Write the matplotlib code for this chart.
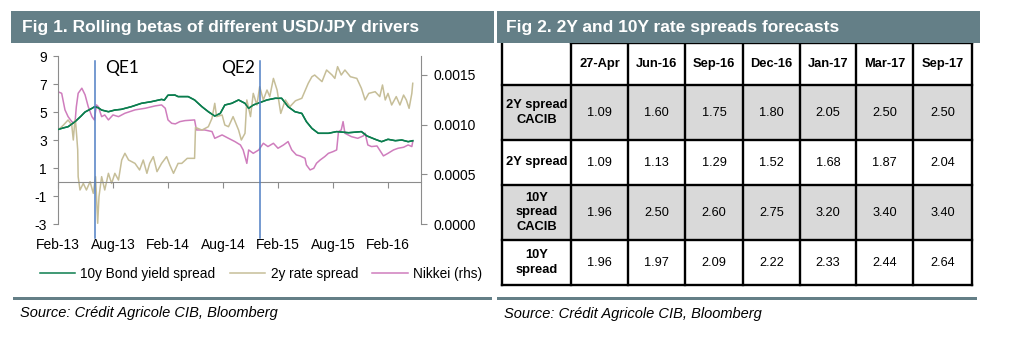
import matplotlib
matplotlib.use('Agg')
import matplotlib.pyplot as plt
from matplotlib.patches import Rectangle
from matplotlib.lines import Line2D
from matplotlib.ticker import FormatStrFormatter

# ---------------- data: Fig 1 (x = months since Feb-2013) ----------------
x_tick_pos = [0, 6, 12, 18, 24, 30, 36]
x_tick_labels = ['Feb-13', 'Aug-13', 'Feb-14', 'Aug-14', 'Feb-15', 'Aug-15', 'Feb-16']
left_ticks = [-3, -1, 1, 3, 5, 7, 9]
right_ticks = [0.0, 0.0005, 0.0010, 0.0015]

green_m = [0.0, 0.5, 1.1, 1.85, 2.5, 2.95, 3.7, 4.0, 4.4, 4.76, 5.5, 6.2, 6.9, 8.0, 9.1,
           10.2, 11.3, 11.6, 12.0, 12.76, 13.1, 14.2, 14.9, 15.7, 16.4, 17.1, 17.7, 18.2,
           18.95, 19.7, 20.4, 20.8, 21.3, 22.0, 22.8, 23.7, 24.4, 25.1, 25.85, 26.6, 27.1,
           27.7, 28.4, 29.5, 30.4, 31.7, 33.1, 33.7, 34.6, 35.3, 36.0, 36.8, 37.5, 38.2, 38.7]
green_v = [3.75, 3.85, 3.95, 4.3, 4.7, 5.0, 5.26, 5.38, 5.3, 5.14, 5.02, 5.14, 5.19, 5.38, 5.62,
           5.74, 5.9, 5.85, 6.2, 6.21, 6.1, 6.1, 5.86, 5.38, 5.02, 4.71, 4.9, 5.5,
           5.62, 5.86, 5.62, 5.26, 5.5, 5.67, 5.86, 5.98, 5.98, 5.38, 5.02, 4.9, 4.31,
           3.83, 3.48, 3.48, 3.6, 3.52, 3.6, 3.29, 3.05, 2.88, 3.05, 2.95, 3.0, 2.88, 2.95]

tan_m = [0.0, 0.6, 1.1, 1.5, 1.67, 1.8, 1.9, 2.05, 2.15, 2.2, 2.4, 2.76, 3.1, 3.5, 3.85, 4.1,
         4.33, 4.47, 4.76, 5.1, 5.5, 5.85, 6.2, 6.6, 6.95, 7.3, 7.7, 8.4, 8.9, 9.3, 9.7, 10.0,
         10.4, 10.8, 11.3, 11.85, 12.2, 12.6, 13.1, 13.5, 14.1, 14.9, 15.0, 15.7, 16.4, 16.8,
         17.1, 17.3, 17.9, 18.2, 18.6, 19.1, 19.7, 20.0, 20.4, 20.6, 21.0, 21.3, 21.7, 22.0,
         22.4, 22.8, 23.1, 23.5, 23.9, 24.3, 24.8, 25.3, 25.9, 26.6, 27.3, 27.7, 28.0, 28.8,
         29.3, 29.9, 30.2, 30.5, 30.9, 31.3, 31.9, 32.6, 33.1, 33.5, 33.9, 34.6, 35.1, 35.4,
         35.7, 36.0, 36.4, 36.9, 37.3, 37.7, 38.0, 38.3, 38.6, 38.7]
tan_v = [3.7, 4.07, 4.43, 4.07, 3.0, 4.07, 4.43, 3.2, 2.29, 0.38, -0.57, -0.1, -0.57, 0.02, -0.81, 0.38,
         -2.95, -1.05, 0.38, -0.57, 0.62, -0.1, 0.62, 0.14, 1.57, 2.05, 1.57, 1.33, 0.86, 1.57, 0.62, 1.33,
         1.81, 0.74, 1.33, 1.81, 1.21, 0.62, 1.33, 1.33, 1.69, 1.69, 3.9, 3.71, 3.95, 4.55,
         5.62, 4.67, 4.79, 4.07, 3.95, 4.67, 3.71, 3.0, 3.48, 5.86, 4.67, 6.33, 5.5, 6.81,
         5.86, 6.57, 6.1, 7.4, 6.57, 4.9, 5.86, 5.38, 5.8, 5.98, 7.05, 7.52, 7.64, 7.17,
         8.0, 7.64, 7.4, 8.24, 7.64, 8.0, 7.52, 7.4, 6.69, 5.86, 6.33, 6.45, 6.1, 6.93,
         5.86, 6.33, 5.5, 6.1, 5.5, 6.21, 5.86, 5.26, 6.33, 7.05]

pink_m = [0.0, 0.4, 0.76, 1.1, 1.5, 1.85, 2.0, 2.2, 2.6, 2.95, 3.3, 3.7, 3.96, 4.2, 4.4, 4.76,
          5.1, 5.5, 6.0, 6.6, 7.3, 8.4, 9.5, 10.6, 11.3, 11.7, 12.0, 12.4, 12.8, 13.3, 13.85,
          14.9, 15.1, 16.0, 16.8, 17.1, 17.9, 18.6, 19.3, 19.9, 20.2, 20.6, 20.8, 21.3, 21.9,
          22.4, 22.9, 23.5, 24.0, 24.6, 25.1, 25.5, 26.0, 26.4, 26.95, 27.1, 27.5, 27.9, 28.2,
          28.6, 29.1, 29.5, 30.0, 30.4, 30.6, 30.9, 31.1, 31.3, 32.0, 32.7, 33.3, 33.5, 33.8,
          34.2, 34.8, 35.2, 35.5, 36.0, 36.6, 37.1, 37.7, 38.2, 38.6, 38.7]
pink_v = [0.00133, 0.001315, 0.001148, 0.00108, 0.00103, 0.001013, 0.00118, 0.001315, 0.001366,
          0.0013, 0.00118, 0.00108, 0.001047, 0.001198, 0.00118, 0.00108, 0.001097, 0.001047,
          0.001097, 0.00108, 0.001114, 0.001148, 0.001164, 0.001188, 0.001198, 0.001164,
          0.001047, 0.001013, 0.001007, 0.00103, 0.00104, 0.001047, 0.000946, 0.000946,
          0.00093, 0.000862, 0.000896, 0.000862, 0.000829, 0.000795, 0.000745, 0.00061,
          0.000745, 0.000711, 0.000745, 0.000812, 0.000779, 0.000812, 0.000762, 0.000795,
          0.000829, 0.000745, 0.000695, 0.000685, 0.000661, 0.000594, 0.000544, 0.00056,
          0.000611, 0.000644, 0.000678, 0.000711, 0.000728, 0.000745, 0.00093, 0.000946,
          0.00103, 0.000913, 0.000879, 0.000862, 0.000886, 0.000913, 0.000795, 0.000779,
          0.000785, 0.000728, 0.000685, 0.000711, 0.000745, 0.000762, 0.000772, 0.000795,
          0.000779, 0.000829]

qe_m = [4.0, 22.0]
qe_labels = ['QE1', 'QE2']

series_names = ['10y Bond yield spread', '2y rate spread', 'Nikkei (rhs)']

# ---------------- data: Fig 2 table ----------------
col_headers = ['27-Apr', 'Jun-16', 'Sep-16', 'Dec-16', 'Jan-17', 'Mar-17', 'Sep-17']
row_labels = ['2Y spread\nCACIB', '2Y spread', '10Y\nspread\nCACIB', '10Y\nspread']
row_2y_cacib = ['1.09', '1.60', '1.75', '1.80', '2.05', '2.50', '2.50']
row_2y = ['1.09', '1.13', '1.29', '1.52', '1.68', '1.87', '2.04']
row_10y_cacib = ['1.96', '2.50', '2.60', '2.75', '3.20', '3.40', '3.40']
row_10y = ['1.96', '1.97', '2.09', '2.22', '2.33', '2.44', '2.64']
row_shaded = [True, False, True, False]

title1 = 'Fig 1. Rolling betas of different USD/JPY drivers'
title2 = 'Fig 2. 2Y and 10Y rate spreads forecasts'
source = 'Source: Crédit Agricole CIB, Bloomberg'

# ---------------- styling ----------------
plt.rcParams['font.family'] = ['Liberation Sans', 'DejaVu Sans']
plt.rcParams['axes.unicode_minus'] = False
W, H = 1017, 342
HDR = '#647F87'
GREEN = '#0B7D4E'
TAN = '#C6BE98'
PINK = '#CF7DBD'
BLUE = '#4F7EC4'
AXC = '#8C8C8C'

fig = plt.figure(figsize=(W / 100, H / 100), dpi=100)


def fx(px):
    return px / W


def fy(py):
    return 1 - py / H


def frect(x0, y0, x1, y1, color):
    fig.add_artist(Rectangle((fx(x0), fy(y1)), fx(x1) - fx(x0), fy(y0) - fy(y1),
                             transform=fig.transFigure, color=color, lw=0))


# header bars and bottom rules
frect(11, 11, 494, 43, HDR)
frect(497, 11, 980, 43, HDR)
frect(13, 297, 492, 300, HDR)
frect(497, 297, 977, 300, HDR)
fig.text(fx(22), fy(27.5), title1, color='white', fontsize=12.5, fontweight='bold',
         va='center', ha='left')
fig.text(fx(506), fy(27.5), title2, color='white', fontsize=12.5, fontweight='bold',
         va='center', ha='left')
fig.text(fx(20), fy(313), source, fontsize=10.5, style='italic', va='center', ha='left')
fig.text(fx(504), fy(314), source, fontsize=10.5, style='italic', va='center', ha='left')

# ---------------- Fig 1 chart ----------------
ax = fig.add_axes([fx(58), fy(224), fx(421) - fx(58), fy(56) - fy(224)])
ax2 = ax.twinx()
ax.set_zorder(ax2.get_zorder() + 1)
ax.patch.set_visible(False)

ax.set_xlim(0, 39.6)
ax.set_ylim(-3, 9)
ax2.set_ylim(0, 0.00169)

l1, = ax.plot(green_m, green_v, color=GREEN, lw=1.1)
l2, = ax.plot(tan_m, tan_v, color=TAN, lw=1.1)
l3, = ax2.plot(pink_m, pink_v, color=PINK, lw=1.1)
ax.plot(green_m, green_v, color=GREEN, lw=1.1, zorder=3)

for m, lab in zip(qe_m, qe_labels):
    ax.plot([m, m], [8.64, -4.0], color=BLUE, lw=1.1, clip_on=False, zorder=4)
for m, lab, off, ha in zip(qe_m, qe_labels, [1.1, -0.5], ['left', 'right']):
    ax.text(m + off, 8.75, lab, fontsize=12.5, family='Lato', ha=ha, va='top')

for a in (ax, ax2):
    a.spines['top'].set_visible(False)
ax.spines['right'].set_visible(False)
ax2.spines['left'].set_visible(False)
ax2.spines['bottom'].set_visible(False)
ax.spines['left'].set_color(AXC)
ax2.spines['right'].set_color(AXC)
ax.spines['bottom'].set_color(AXC)
ax.spines['bottom'].set_position(('data', 0))

ax.set_xticks(x_tick_pos)
ax.set_xticklabels(x_tick_labels)
ax.tick_params(axis='x', direction='out', length=4, color=AXC, pad=36, labelsize=10)
ax.set_yticks(left_ticks)
ax.tick_params(axis='y', direction='out', length=3.5, color=AXC, pad=4.5, labelsize=10)
ax2.set_yticks(right_ticks)
ax2.yaxis.set_major_formatter(FormatStrFormatter('%.4f'))
ax2.tick_params(axis='y', direction='out', length=4, color=AXC, pad=5, labelsize=10)

handles = [Line2D([], [], color=c, lw=1.1) for c in (GREEN, TAN, PINK)]
fig.legend(handles, series_names, loc='center', bbox_to_anchor=(fx(261), fy(274)),
           ncol=3, frameon=False, fontsize=9.8, handlelength=2.6, handletextpad=0.4,
           columnspacing=1.05, borderpad=0, borderaxespad=0)

# ---------------- Fig 2 table ----------------
col_edges = [502, 571, 628, 685, 743, 800, 856, 913, 972]
row_edges = [43, 85, 140, 185, 240, 285]
axt = fig.add_axes([fx(502), fy(285), fx(972) - fx(502), fy(43) - fy(285)])
axt.set_xlim(col_edges[0], col_edges[-1])
axt.set_ylim(row_edges[-1], row_edges[0])
axt.axis('off')

rows = [row_2y_cacib, row_2y, row_10y_cacib, row_10y]
for i, shaded in enumerate(row_shaded):
    if shaded:
        axt.add_patch(Rectangle((col_edges[0], row_edges[i + 1]), col_edges[-1] - col_edges[0],
                                row_edges[i + 2] - row_edges[i + 1], color='#D9D9D9', lw=0))

# grid lines
LW = 1.7
for i, y in enumerate(row_edges):
    x0 = col_edges[1] if i == 0 else col_edges[0]
    axt.plot([x0, col_edges[-1]], [y, y], color='black', lw=LW, clip_on=False,
             solid_capstyle='projecting')
for x in col_edges:
    axt.plot([x, x], [row_edges[0], row_edges[-1]], color='black', lw=LW, clip_on=False,
             solid_capstyle='projecting')

# header text
for j, h in enumerate(col_headers):
    cx = (col_edges[j + 1] + col_edges[j + 2]) / 2
    cy = (row_edges[0] + row_edges[1]) / 2
    axt.text(cx, cy, h, ha='center', va='center', fontsize=9.3, fontweight='bold')

for i, (lab, vals) in enumerate(zip(row_labels, rows)):
    cy = (row_edges[i + 1] + row_edges[i + 2]) / 2
    cx0 = (col_edges[0] + col_edges[1]) / 2
    axt.text(cx0, cy, lab, ha='center', va='center', fontsize=9.3, fontweight='bold',
             linespacing=1.3)
    for j, v in enumerate(vals):
        cx = (col_edges[j + 1] + col_edges[j + 2]) / 2
        axt.text(cx, cy, v, ha='center', va='center', fontsize=9.2)

fig.savefig('out.png', dpi=100)
